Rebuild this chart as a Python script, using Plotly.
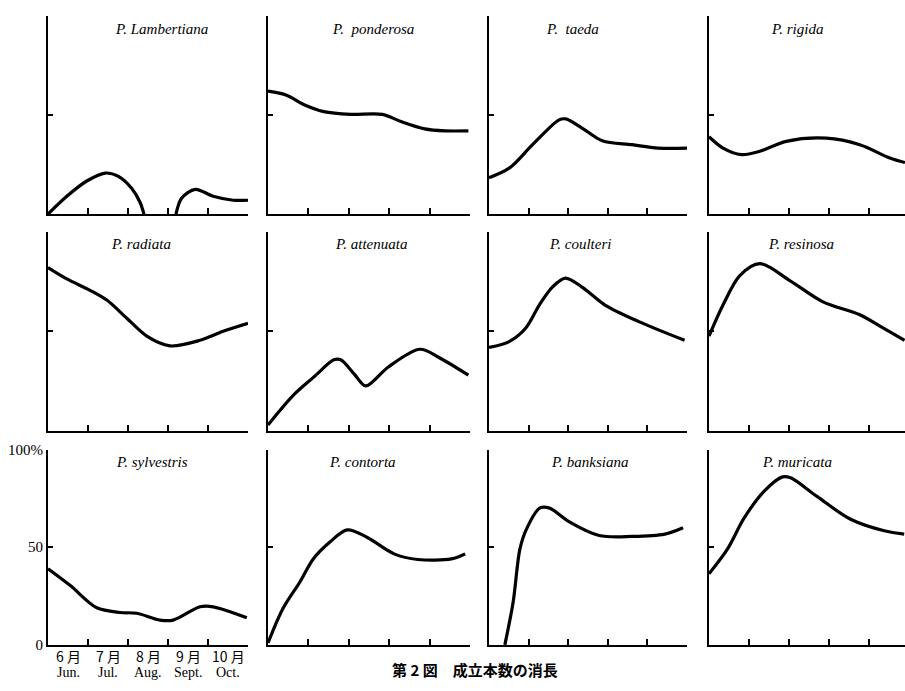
import plotly.graph_objects as go

# ---------------- data (percent surviving, x in months from 1 June) ----------------
species = ["P. Lambertiana", "P.  ponderosa", "P.  taeda", "P. rigida",
           "P. radiata", "P. attenuata", "P. coulteri", "P. resinosa",
           "P. sylvestris", "P. contorta", "P. banksiana", "P. muricata"]

lambertiana_x = [0, 0.47, 0.97, 1.43, 1.76, 2.09, 2.3, 2.4, None, 3.2, 3.34, 3.68, 4.13, 4.63, 5.0]
lambertiana_y = [0, 9, 16.7, 20.7, 19, 13, 6, 0, None, 0, 8, 12.5, 9, 7, 7]

ponderosa_x = [0, 0.46, 0.88, 1.38, 2.04, 2.83, 3.29, 3.88, 4.38, 4.96]
ponderosa_y = [62, 60, 55.3, 51.7, 50.3, 50.3, 46.7, 43, 42, 42]

taeda_x = [0, 0.52, 1.1, 1.77, 1.94, 2.36, 2.86, 3.61, 4.27, 5.0]
taeda_y = [18.3, 23.3, 35, 47.5, 48, 43.3, 37, 35, 33.3, 33.3]

rigida_x = [0, 0.35, 0.81, 1.27, 1.93, 2.93, 3.77, 4.52, 4.9]
rigida_y = [39, 33.3, 30, 31.7, 36.7, 38.3, 35, 28.3, 26]

radiata_x = [0, 0.47, 1.05, 1.47, 1.97, 2.47, 3.05, 3.8, 4.38, 5.0]
radiata_y = [82, 76.3, 70.6, 65.7, 56.6, 47.6, 42.7, 45.5, 50, 54]

attenuata_x = [0, 0.63, 1.13, 1.63, 1.8, 2.13, 2.42, 2.97, 3.76, 4.22, 4.96]
attenuata_y = [3, 18, 27, 35.7, 35.7, 28.7, 22.6, 32, 41, 37, 28]

coulteri_x = [0, 0.52, 0.93, 1.27, 1.6, 1.93, 2.35, 2.93, 3.77, 4.94]
coulteri_y = [41.9, 45, 51.7, 63.2, 72.2, 76.7, 72.2, 63.2, 55, 45.5]

resinosa_x = [0, 0.35, 0.77, 1.27, 2.02, 2.85, 3.77, 4.35, 4.89]
resinosa_y = [47.6, 63.2, 78, 84, 75.5, 64.8, 58.3, 51.7, 45.5]

sylvestris_x = [0, 0.55, 1.22, 1.8, 2.22, 2.8, 3.13, 3.8, 4.13, 4.97]
sylvestris_y = [39, 30.5, 19, 16.6, 16.2, 12.7, 12.7, 19.5, 19.5, 13.9]

contorta_x = [0, 0.37, 0.79, 1.12, 1.54, 1.96, 2.46, 3.12, 3.71, 4.54, 4.88]
contorta_y = [1, 18.6, 32.2, 44, 52.8, 58.9, 55, 46.6, 43.7, 44, 46.6]

banksiana_x = [0.4, 0.61, 0.78, 0.94, 1.28, 1.53, 2.03, 2.78, 3.61, 4.44, 4.9]
banksiana_y = [0, 22, 49, 59, 70, 70, 63, 56, 55.5, 56.7, 60]

muricata_x = [0, 0.46, 0.88, 1.38, 1.84, 2.04, 2.7, 3.54, 4.38, 4.88]
muricata_y = [36.4, 49, 65, 78.7, 86, 85.5, 76, 64.3, 58.4, 56.7]

series_x = [lambertiana_x, ponderosa_x, taeda_x, rigida_x, radiata_x, attenuata_x,
            coulteri_x, resinosa_x, sylvestris_x, contorta_x, banksiana_x, muricata_x]
series_y = [lambertiana_y, ponderosa_y, taeda_y, rigida_y, radiata_y, attenuata_y,
            coulteri_y, resinosa_y, sylvestris_y, contorta_y, banksiana_y, muricata_y]

month_ticks = [1, 2, 3, 4, 5]
month_label_pos = [0.5, 1.5, 2.5, 3.5, 4.5]
month_labels_jp = ["6 月", "7 月", "8 月", "9 月", "10 月"]
month_labels_en = ["Jun.", "Jul.", "Aug.", "Sept.", "Oct."]
y_ticks = [0, 50, 100]
y_ticktext = ["0", "50", "100%"]
caption = "第 2 図　成立本数の消長"

# ---------------- layout geometry (pixels) ----------------
W, H = 905, 691
col_left = [48, 268, 489, 709]
col_right = [248, 470, 687, 905]
col_xmax = [5, 5, 5, 4.9]
row_top = [8, 229, 452]
row_bot = [211, 433, 652]
title_frac = [0.565, 0.52, 0.42, 0.45, 0.465, 0.51, 0.46, 0.47, 0.52, 0.47, 0.51, 0.45]

fig = go.Figure()
layout = dict(width=W, height=H, margin=dict(l=0, r=0, t=0, b=0),
              paper_bgcolor="white", plot_bgcolor="white", showlegend=False)
annotations = []

serif = "Liberation Serif, DejaVu Serif, serif"

for i in range(12):
    r, c = divmod(i, 4)
    n = "" if i == 0 else str(i + 1)
    xa, ya = "xaxis" + n, "yaxis" + n
    fig.add_trace(go.Scatter(x=series_x[i], y=series_y[i], mode="lines",
                             line=dict(color="black", width=3.2, shape="spline", smoothing=0.9),
                             connectgaps=False, xaxis="x" + n, yaxis="y" + n,
                             hoverinfo="skip"))
    bottom_left = (r == 2 and c == 0)
    layout[xa] = dict(domain=[col_left[c] / W, col_right[c] / W], anchor="y" + n,
                      range=[0, col_xmax[c]], showgrid=False, zeroline=False,
                      showline=True, linecolor="black", linewidth=2,
                      ticks="inside", ticklen=6, tickwidth=1.5, tickcolor="black",
                      tickvals=month_ticks, showticklabels=False, fixedrange=True)
    layout[ya] = dict(domain=[1 - row_bot[r] / H, 1 - row_top[r] / H], anchor="x" + n,
                      range=[0, 100], showgrid=False, zeroline=False,
                      showline=True, linecolor="black", linewidth=2,
                      ticks="inside", ticklen=5, tickwidth=1.5, tickcolor="black",
                      tickvals=y_ticks, ticktext=y_ticktext,
                      showticklabels=bottom_left,
                      tickfont=dict(family=serif, size=15, color="black"),
                      fixedrange=True)
    tx = (col_left[c] + title_frac[i] * (col_right[c] - col_left[c])) / W
    annotations.append(dict(text="<i>" + species[i] + "</i>", x=tx, y=1 - (row_top[r] + 13) / H,
                            xref="paper", yref="paper", showarrow=False,
                            xanchor="center", yanchor="middle",
                            font=dict(family=serif, size=15, color="black")))
    if bottom_left:
        for p, jp, en in zip(month_label_pos, month_labels_jp, month_labels_en):
            annotations.append(dict(text=jp, x=p, y=1 - 663 / H, xref="x" + n, yref="paper",
                                    showarrow=False, xanchor="center", yanchor="middle",
                                    font=dict(family="Noto Sans CJK JP, " + serif, size=14, color="black")))
            annotations.append(dict(text=en, x=p, y=1 - 680 / H, xref="x" + n, yref="paper",
                                    showarrow=False, xanchor="center", yanchor="middle",
                                    font=dict(family=serif, size=14, color="black")))

annotations.append(dict(text="<b>" + caption + "</b>", x=475 / W, y=1 - 690 / H,
                        xref="paper", yref="paper", showarrow=False,
                        xanchor="center", yanchor="bottom",
                        font=dict(family="Noto Sans CJK JP", size=15, color="black")))
layout["annotations"] = annotations
fig.update_layout(**layout)
fig.write_html("out.html", config={"displayModeBar": False},
               post_script="document.body.style.margin='0';document.body.style.overflow='hidden';")
